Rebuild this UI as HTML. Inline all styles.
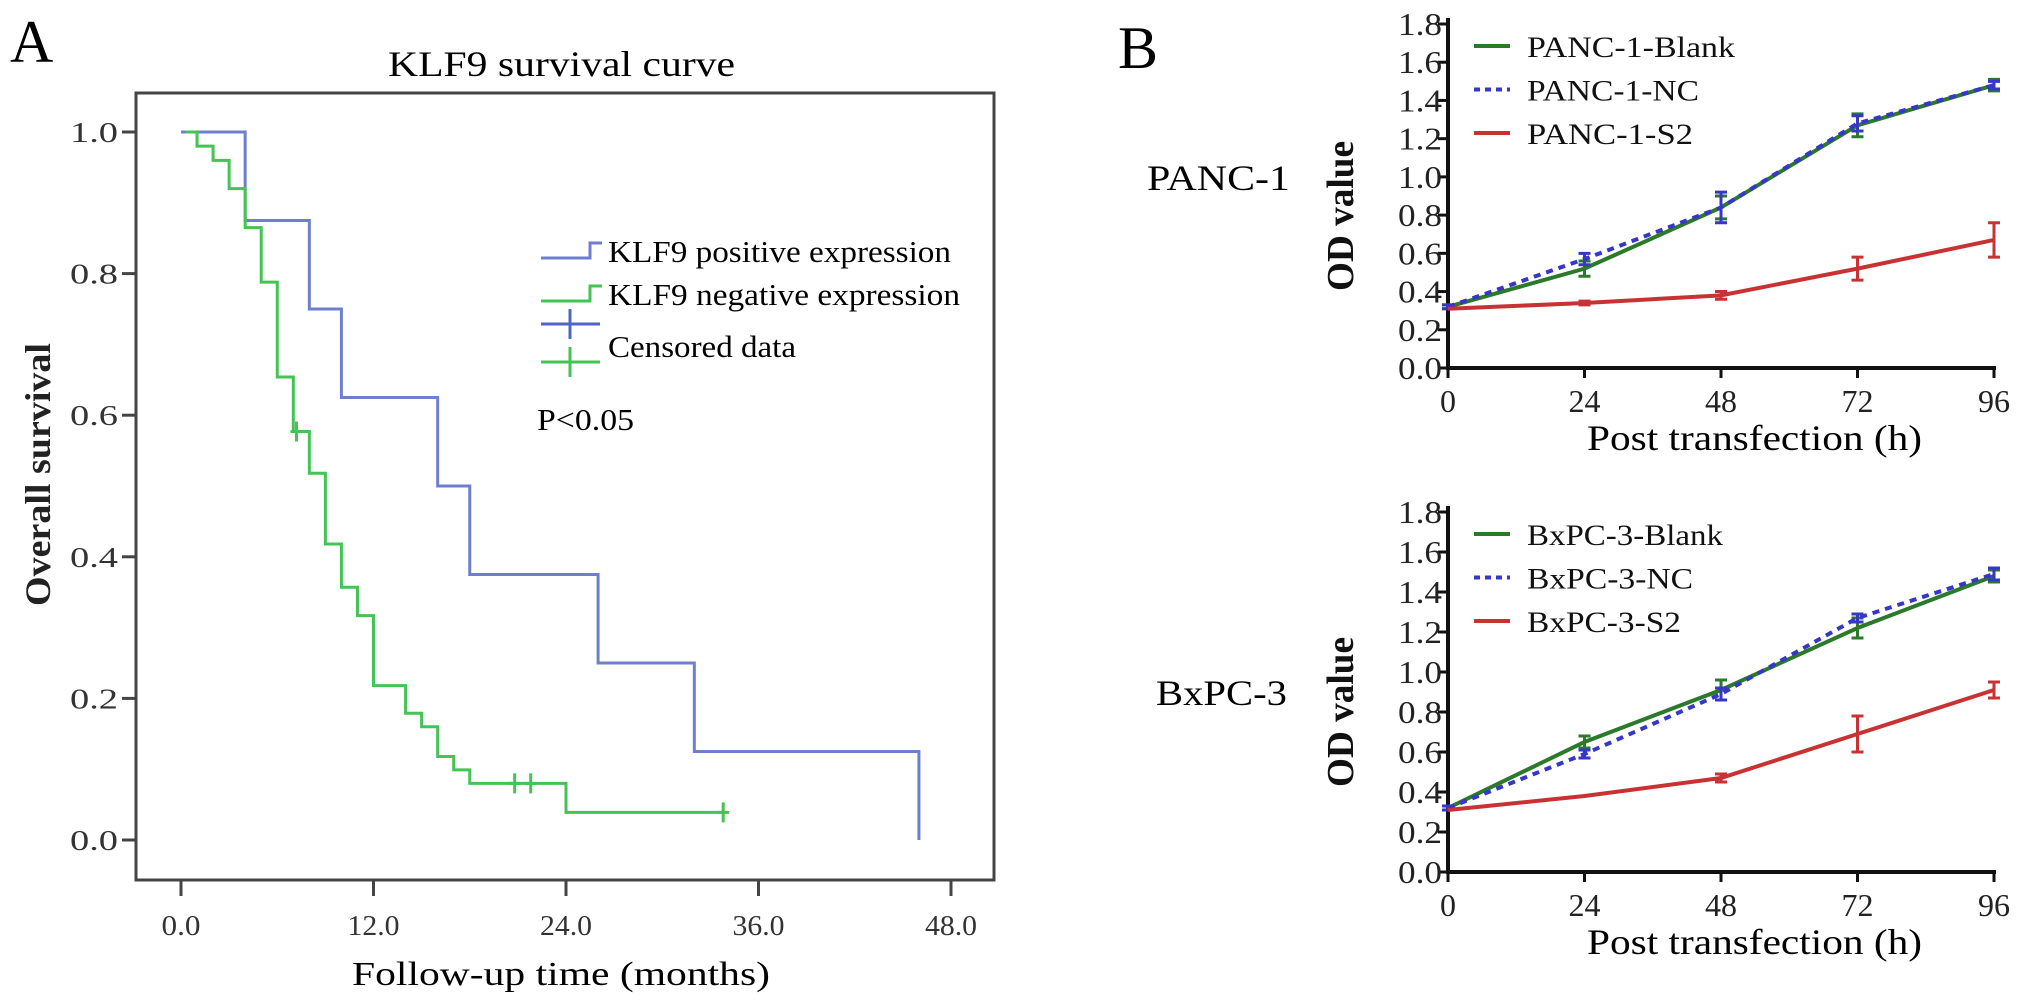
<!DOCTYPE html>
<html><head><meta charset="utf-8"><style>
html,body{margin:0;padding:0;background:#fff;}
svg{display:block;font-family:"Liberation Serif",serif;}
</style></head><body>
<svg id="fig" width="2031" height="1006" viewBox="0 0 2031 1006" xmlns="http://www.w3.org/2000/svg">
<rect width="2031" height="1006" fill="#fff"/>
<text x="10" y="62" font-size="60">A</text>
<text x="388" y="76" font-size="36" textLength="347" lengthAdjust="spacingAndGlyphs">KLF9 survival curve</text>
<rect x="136" y="93" width="858" height="787" fill="none" stroke="#444" stroke-width="3"/>
<text transform="translate(50,606) rotate(-90)" font-size="36" font-weight="bold" textLength="263" lengthAdjust="spacingAndGlyphs" fill="#222">Overall survival</text>
<text x="352" y="985" font-size="34" textLength="418" lengthAdjust="spacingAndGlyphs">Follow-up time (months)</text>
<g id="kmAxes"></g>
<g id="kmCurves"></g>
<g>
 <path d="M541,258 H590 V243 H602" fill="none" stroke="#6f7fd0" stroke-width="3"/>
 <text x="608" y="262" font-size="31" textLength="343" lengthAdjust="spacingAndGlyphs">KLF9 positive expression</text>
 <path d="M541,301 H590 V286 H602" fill="none" stroke="#44c455" stroke-width="3"/>
 <text x="608" y="305" font-size="31" textLength="352" lengthAdjust="spacingAndGlyphs">KLF9 negative expression</text>
 <path d="M541,324 H600 M570,309 V339" stroke="#5064c8" stroke-width="3"/>
 <text x="608" y="357" font-size="31" textLength="188" lengthAdjust="spacingAndGlyphs">Censored data</text>
 <path d="M541,362 H600 M570,347 V377" stroke="#44c455" stroke-width="3"/>
 <text x="537" y="430" font-size="31" textLength="97" lengthAdjust="spacingAndGlyphs">P&lt;0.05</text>
</g>
<text x="1118" y="68" font-size="60">B</text>
<text x="1147" y="190" font-size="36" textLength="143" lengthAdjust="spacingAndGlyphs">PANC-1</text>
<text x="1156" y="705" font-size="36" textLength="131" lengthAdjust="spacingAndGlyphs">BxPC-3</text>
<g id="gTop"></g>
<g id="gBot"></g>
</svg>
<script>
// ---- Panel A data (Kaplan-Meier) ----
const posTimes = [0, 4, 8, 10, 16, 18, 26, 32, 46];
const posSurv  = [1.0, 0.875, 0.75, 0.625, 0.5, 0.375, 0.25, 0.125, 0.0];
const posEnd = 46;
const negTimes = [0.3, 1, 2, 3, 4, 5, 6, 7, 8, 9, 10, 11, 12, 14, 15, 16, 17, 18, 24];
const negSurv  = [1.0, 0.98, 0.96, 0.92, 0.865, 0.788, 0.654, 0.577, 0.518, 0.418, 0.357, 0.317, 0.218, 0.179, 0.16, 0.118, 0.099, 0.08, 0.039];
const negEnd = 33.8;
const negCensorT = [7.2, 20.8, 21.8, 33.8];
const negCensorS = [0.577, 0.08, 0.08, 0.039];
const kmXTicks = [0, 12, 24, 36, 48];
const kmXTickLabels = ["0.0", "12.0", "24.0", "36.0", "48.0"];
const kmYTicks = [0, 0.2, 0.4, 0.6, 0.8, 1.0];
const kmYTickLabels = ["0.0", "0.2", "0.4", "0.6", "0.8", "1.0"];

// ---- Panel B data ----
const hours = [0, 24, 48, 72, 96];
const odTicks = [0, 0.2, 0.4, 0.6, 0.8, 1.0, 1.2, 1.4, 1.6, 1.8];
const odTickLabels = ["0.0","0.2","0.4","0.6","0.8","1.0","1.2","1.4","1.6","1.8"];
const pancBlank = [0.32, 0.52, 0.84, 1.27, 1.48];
const pancBlankErr = [0.01, 0.04, 0.06, 0.06, 0.03];
const pancNC = [0.32, 0.57, 0.84, 1.28, 1.48];
const pancNCErr = [0.01, 0.03, 0.08, 0.04, 0.02];
const pancS2 = [0.31, 0.34, 0.38, 0.52, 0.67];
const pancS2Err = [0.0, 0.01, 0.02, 0.06, 0.09];
const bxBlank = [0.32, 0.65, 0.91, 1.22, 1.48];
const bxBlankErr = [0.01, 0.03, 0.05, 0.05, 0.03];
const bxNC = [0.32, 0.59, 0.89, 1.27, 1.49];
const bxNCErr = [0.01, 0.02, 0.03, 0.02, 0.03];
const bxS2 = [0.31, 0.38, 0.47, 0.69, 0.91];
const bxS2Err = [0.0, 0.005, 0.02, 0.09, 0.04];

const NS = "http://www.w3.org/2000/svg";
function mk(tag, attrs, parent){ const e=document.createElementNS(NS,tag); for(const k in attrs) e.setAttribute(k,attrs[k]); parent.appendChild(e); return e; }

// ---- Panel A ----
const kx = t => 181 + (t/48)*(951-181);
const ky = s => 840 - s*(840-132);
const kmAxes = document.getElementById('kmAxes');
kmYTicks.forEach((v,i)=>{
  const l = mk('line',{x1:122,x2:136,y1:ky(v),y2:ky(v),stroke:'#444','stroke-width':3},kmAxes);
  
  
  const t = mk('text',{x:118,y:ky(v)+10,'font-size':28,'text-anchor':'end',fill:'#333',textLength:48,lengthAdjust:'spacingAndGlyphs'},kmAxes);
  t.textContent = kmYTickLabels[i];
  
  
});
kmXTicks.forEach((v,i)=>{
  const l = mk('line',{x1:kx(v),x2:kx(v),y1:880,y2:896,stroke:'#444','stroke-width':3},kmAxes);
  
  
  const L = kmXTickLabels[i].length*13;
  const t = mk('text',{x:kx(v)-L/2,y:935,'font-size':28,fill:'#333',textLength:L,lengthAdjust:'spacingAndGlyphs'},kmAxes);
  t.textContent = kmXTickLabels[i];
  
  
});
function stepPath(times, surv, end){
  let d = `M${kx(times[0])},${ky(surv[0])}`;
  for(let i=1;i<times.length;i++){ d += ` H${kx(times[i])} V${ky(surv[i])}`; }
  if(end > times[times.length-1]) d += ` H${kx(end)}`;
  return d;
}
const kmCurves = document.getElementById('kmCurves');
const pp = mk('path',{d:stepPath(posTimes,posSurv,posEnd),fill:'none',stroke:'#6f7fd0','stroke-width':3},kmCurves);


const np = mk('path',{d:stepPath(negTimes,negSurv,negEnd),fill:'none',stroke:'#44c455','stroke-width':3},kmCurves);


negCensorT.forEach((t,i)=>{
  const c = mk('path',{d:`M${kx(t)},${ky(negCensorS[i])-10} V${ky(negCensorS[i])+10} M${kx(t)-6},${ky(negCensorS[i])} H${kx(t)+6}`,stroke:'#44c455','stroke-width':3},kmCurves);
  
  
});

// ---- Panel B ----
function odChart(gid, yTop, yZero, series, prefix, legendLens){
  const g = document.getElementById(gid);
  const x0 = 1448, x96 = 1994;
  const X = h => x0 + (h/96)*(x96-x0);
  const Y = v => yZero - (v/1.8)*(yZero-yTop);
  const ax = mk('path',{d:`M${x0},${yTop-6} V${yZero} H${x96+2}`,fill:'none',stroke:'#111','stroke-width':4},g);
  
  
  odTicks.forEach((v,i)=>{
    const l = mk('line',{x1:x0-10,x2:x0,y1:Y(v),y2:Y(v),stroke:'#111','stroke-width':3},g);
    
    
    const t = mk('text',{x:x0-6,y:Y(v)+11,'font-size':32,'text-anchor':'end',fill:'#222',textLength:44,lengthAdjust:'spacingAndGlyphs'},g);
    t.textContent = odTickLabels[i];
    
    
  });
  hours.forEach(h=>{
    const l = mk('line',{x1:X(h),x2:X(h),y1:yZero,y2:yZero+10,stroke:'#111','stroke-width':3},g);
    
    
    const s = String(h); const L = s.length*16;
    const t = mk('text',{x:X(h)-L/2,y:yZero+44,'font-size':32,fill:'#222',textLength:L,lengthAdjust:'spacingAndGlyphs'},g);
    t.textContent = s;
    
    
  });
  const cy = (yTop+yZero)/2 + 20;
  const yl = mk('text',{transform:`translate(1353,${cy+75}) rotate(-90)`,'font-size':38,'font-weight':'bold',textLength:150,lengthAdjust:'spacingAndGlyphs',fill:'#111'},g);
  yl.textContent = 'OD value';
  
  
  const xl = mk('text',{x:1587,y:yZero+82,'font-size':36,textLength:335,lengthAdjust:'spacingAndGlyphs'},g);
  xl.textContent = 'Post transfection (h)';
  
  
  series.forEach((s,si)=>{
    const d = s.vals.map((v,i)=>(i?'L':'M')+X(hours[i])+','+Y(v)).join(' ');
    const p = mk('path',{d:d,fill:'none',stroke:s.color,'stroke-width':4,'stroke-dasharray':s.dash||'none'},g);
    
    
    s.vals.forEach((v,i)=>{
      const e = s.err[i]; if(e<=0.005) return;
      const xx = X(hours[i]);
      const b = mk('path',{d:`M${xx},${Y(v+e)} V${Y(v-e)} M${xx-6},${Y(v+e)} H${xx+6} M${xx-6},${Y(v-e)} H${xx+6}`,stroke:s.color,'stroke-width':3,fill:'none'},g);
      
      
    });
    const ly = yTop + 22 + si*43.5;
    const sw = mk('line',{x1:1474,x2:1510,y1:ly,y2:ly,stroke:s.color,'stroke-width':4,'stroke-dasharray':s.dash?'6,5':'none'},g);
    
    
    const lt = mk('text',{x:1527,y:ly+11,'font-size':30,fill:'#111',textLength:legendLens[si],lengthAdjust:'spacingAndGlyphs'},g);
    lt.textContent = s.label;
    
    
  });
}
odChart('gTop', 24, 368, [
  {key:'blank', label:'PANC-1-Blank', vals:pancBlank, err:pancBlankErr, color:'#2a7a2a'},
  {key:'nc', label:'PANC-1-NC', vals:pancNC, err:pancNCErr, color:'#3636c8', dash:'7,6'},
  {key:'s2', label:'PANC-1-S2', vals:pancS2, err:pancS2Err, color:'#c83232'}
], 'panc1', [208,172,166]);
odChart('gBot', 512, 872, [
  {key:'blank', label:'BxPC-3-Blank', vals:bxBlank, err:bxBlankErr, color:'#2a7a2a'},
  {key:'nc', label:'BxPC-3-NC', vals:bxNC, err:bxNCErr, color:'#3636c8', dash:'7,6'},
  {key:'s2', label:'BxPC-3-S2', vals:bxS2, err:bxS2Err, color:'#c83232'}
], 'bxpc3', [196,166,154]);
</script>
</body></html>
